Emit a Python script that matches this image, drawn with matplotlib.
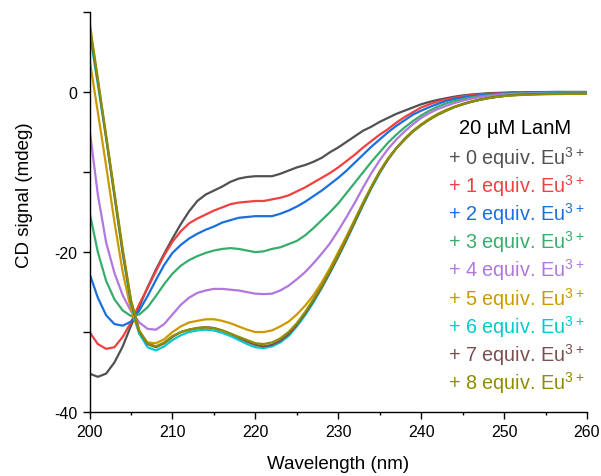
import numpy as np
import matplotlib
matplotlib.use("Agg")
import matplotlib.pyplot as plt
from matplotlib.ticker import MultipleLocator

plt.rcParams["font.family"] = ["Liberation Sans", "DejaVu Sans"]
plt.rcParams["mathtext.default"] = "regular"
plt.rcParams["axes.unicode_minus"] = False

# wavelength grid (nm), 1 nm steps
wavelength = np.arange(200, 261, 1)

# CD signal (mdeg) for each Eu3+ equivalent
eq0 = [-35.2, -35.6, -35.2, -33.8, -31.8, -29.2, -26.8, -24.4, -22.2, -20.2,
       -18.3, -16.5, -14.9, -13.6, -12.8, -12.3, -11.8, -11.2, -10.8, -10.6,
       -10.5, -10.5, -10.5, -10.2, -9.8, -9.4, -9.1, -8.7, -8.2, -7.5,
       -6.9, -6.2, -5.5, -4.8, -4.3, -3.7, -3.2, -2.7, -2.3, -1.9,
       -1.5, -1.2, -0.95, -0.75, -0.55, -0.4, -0.28, -0.2, -0.12, -0.08,
       -0.05, 0.0, 0.0, 0.02, 0.03, 0.03, 0.05, 0.05, 0.05, 0.05, 0.05]
eq1 = [-30.0, -31.5, -32.1, -31.9, -30.6, -28.8, -26.5, -24.5, -22.4, -20.4,
       -18.7, -17.4, -16.4, -15.8, -15.3, -14.8, -14.4, -14.0, -13.8, -13.7,
       -13.6, -13.6, -13.4, -13.2, -12.9, -12.4, -11.9, -11.3, -10.7, -10.1,
       -9.4, -8.6, -7.8, -6.9, -6.1, -5.3, -4.6, -3.8, -3.1, -2.5,
       -1.9, -1.5, -1.15, -0.9, -0.7, -0.5, -0.38, -0.28, -0.2, -0.14,
       -0.1, -0.08, -0.06, -0.05, -0.04, -0.03, -0.03, -0.02, -0.02, -0.02, -0.02]
eq2 = [-22.7, -25.7, -27.9, -29.0, -29.2, -28.7, -27.3, -25.5, -23.5, -21.6,
       -20.1, -19.1, -18.3, -17.7, -17.2, -16.8, -16.3, -16.0, -15.7, -15.6,
       -15.5, -15.5, -15.5, -15.2, -14.8, -14.3, -13.7, -13.0, -12.3, -11.5,
       -10.7, -9.8, -8.8, -7.8, -6.8, -5.9, -5.0, -4.2, -3.5, -2.8,
       -2.3, -1.85, -1.45, -1.1, -0.85, -0.65, -0.5, -0.38, -0.28, -0.2,
       -0.15, -0.12, -0.1, -0.08, -0.07, -0.06, -0.05, -0.05, -0.05, -0.05, -0.05]
eq3 = [-15.0, -20.0, -23.6, -25.9, -27.3, -28.0, -27.8, -26.9, -25.5, -24.0,
       -22.7, -21.7, -21.0, -20.5, -20.1, -19.8, -19.6, -19.5, -19.6, -19.8,
       -20.0, -19.9, -19.6, -19.4, -19.0, -18.6, -17.9, -17.0, -16.0, -15.0,
       -13.9, -12.6, -11.3, -10.0, -8.7, -7.5, -6.3, -5.3, -4.4, -3.6,
       -2.9, -2.3, -1.8, -1.4, -1.1, -0.85, -0.65, -0.5, -0.4, -0.3,
       -0.22, -0.17, -0.13, -0.1, -0.08, -0.06, -0.05, -0.05, -0.05, -0.05, -0.05]
eq4 = [-4.6, -12.8, -18.8, -22.6, -25.4, -27.4, -28.8, -29.6, -29.7, -29.0,
       -27.8, -26.6, -25.7, -25.1, -24.8, -24.6, -24.6, -24.7, -24.8, -25.0,
       -25.2, -25.25, -25.2, -24.8, -24.2, -23.4, -22.5, -21.4, -20.2, -18.9,
       -17.3, -15.6, -13.8, -11.9, -10.1, -8.5, -7.1, -5.9, -4.9, -4.0,
       -3.2, -2.6, -2.1, -1.7, -1.35, -1.05, -0.8, -0.62, -0.48, -0.37,
       -0.28, -0.22, -0.17, -0.14, -0.11, -0.09, -0.08, -0.07, -0.06, -0.06, -0.06]
eq5 = [4.1, -2.5, -9.2, -16.2, -22.5, -27.2, -30.2, -31.3, -31.4, -30.9,
       -30.0, -29.3, -28.8, -28.6, -28.4, -28.4, -28.6, -28.9, -29.3, -29.7,
       -30.0, -30.0, -29.8, -29.3, -28.7, -27.8, -26.7, -25.4, -23.8, -22.0,
       -20.0, -18.0, -15.9, -13.8, -11.8, -9.9, -8.3, -7.0, -5.8, -4.8,
       -4.0, -3.3, -2.7, -2.2, -1.8, -1.45, -1.15, -0.92, -0.72, -0.57,
       -0.45, -0.36, -0.3, -0.25, -0.22, -0.2, -0.18, -0.16, -0.15, -0.15, -0.15]
eq6 = [7.5, 1.0, -5.8, -13.0, -20.2, -26.4, -30.2, -31.9, -32.3, -31.8,
       -31.0, -30.4, -30.0, -29.8, -29.7, -29.8, -30.1, -30.5, -31.0, -31.5,
       -31.9, -32.0, -31.8, -31.3, -30.5, -29.3, -27.9, -26.3, -24.5, -22.6,
       -20.6, -18.5, -16.3, -14.1, -12.0, -10.1, -8.4, -7.0, -5.9, -4.9,
       -4.1, -3.4, -2.8, -2.3, -1.85, -1.5, -1.2, -0.95, -0.75, -0.58,
       -0.45, -0.35, -0.28, -0.22, -0.18, -0.15, -0.12, -0.1, -0.1, -0.08, -0.08]
eq7 = [8.2, 1.4, -5.6, -12.8, -20.0, -26.2, -29.9, -31.5, -31.9, -31.4,
       -30.6, -30.0, -29.7, -29.5, -29.4, -29.5, -29.8, -30.2, -30.7, -31.2,
       -31.6, -31.8, -31.6, -31.1, -30.3, -29.1, -27.7, -26.1, -24.4, -22.5,
       -20.5, -18.4, -16.2, -14.0, -11.9, -10.0, -8.4, -7.0, -5.9, -4.9,
       -4.1, -3.4, -2.8, -2.3, -1.85, -1.5, -1.2, -0.95, -0.75, -0.58,
       -0.45, -0.36, -0.3, -0.25, -0.22, -0.2, -0.18, -0.17, -0.16, -0.16, -0.16]
eq8 = [8.75, 1.7, -5.4, -12.5, -19.6, -26.0, -29.8, -31.4, -31.8, -31.3,
       -30.5, -30.0, -29.7, -29.5, -29.4, -29.5, -29.8, -30.2, -30.6, -31.0,
       -31.4, -31.5, -31.3, -30.8, -30.0, -28.9, -27.5, -25.9, -24.2, -22.3,
       -20.3, -18.2, -16.0, -13.8, -11.8, -9.9, -8.3, -7.0, -5.9, -4.9,
       -4.1, -3.4, -2.8, -2.3, -1.85, -1.5, -1.2, -0.95, -0.75, -0.6,
       -0.48, -0.4, -0.34, -0.3, -0.27, -0.25, -0.23, -0.22, -0.2, -0.2, -0.2]

series = [eq0, eq1, eq2, eq3, eq4, eq5, eq6, eq7, eq8]
equivs = [0, 1, 2, 3, 4, 5, 6, 7, 8]
colors = ["#515151", "#F14040", "#1A6FDF", "#37AD6B", "#B177DE",
          "#CC9900", "#00CBCC", "#7D4E4E", "#8E8E00"]

fig = plt.figure(figsize=(6.01, 4.77), dpi=100)
ax = fig.add_axes([0.149, 0.1342, 0.8277, 0.8378])

for vals, c in zip(series, colors):
    ax.plot(wavelength, vals, color=c, lw=1.6)

ax.set_xlim(200, 260)
ax.set_ylim(-40, 10)
ax.xaxis.set_major_locator(MultipleLocator(10))
ax.xaxis.set_minor_locator(MultipleLocator(5))
ax.set_yticks(np.arange(-40, 11, 10))
ax.set_yticklabels(["-40", "", "-20", "", "0", ""])

for s in ["top", "right"]:
    ax.spines[s].set_visible(False)
for s in ["left", "bottom"]:
    ax.spines[s].set_linewidth(1.0)
ax.tick_params(which="major", direction="out", length=5, width=1.0, labelsize=11.5)
ax.tick_params(which="minor", direction="out", length=2.5, width=1.0)

ax.set_xlabel("Wavelength (nm)", fontsize=13.5, labelpad=12)
fig.text(25 / 601, 1 - 195 / 477, "CD signal (mdeg)", rotation=90,
         ha="center", va="center", fontsize=13.5)

# legend as coloured text
fig.text(515 / 601, 1 - 128 / 477, "20 µM LanM", ha="center", va="center",
         fontsize=14.5, color="black")
for i, (n, c) in enumerate(zip(equivs, colors)):
    fig.text(448 / 601, 1 - (157.7 + 28.2 * i) / 477,
             "+ %d equiv. Eu$^{\\mathregular{3+}}$" % n, ha="left", va="center",
             fontsize=14.3, color=c)

fig.savefig("out.png", dpi=100)
